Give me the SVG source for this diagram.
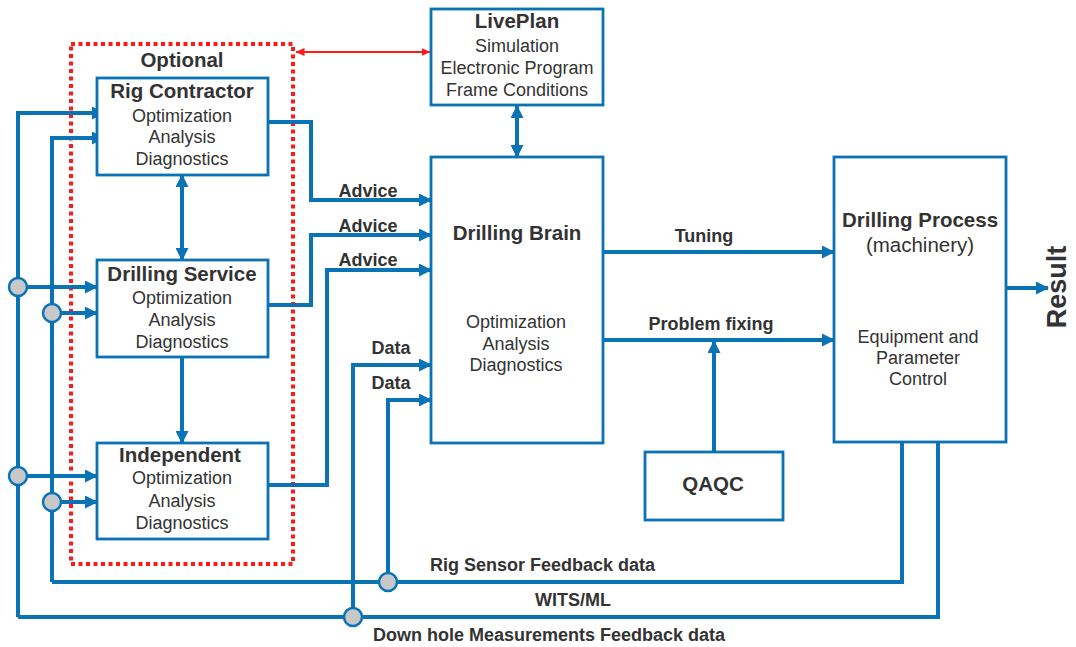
<svg xmlns="http://www.w3.org/2000/svg" width="1076" height="647" viewBox="0 0 1076 647">
<defs>
<marker id="ah" viewBox="0 0 13 13" refX="12" refY="6.5" markerWidth="13" markerHeight="13" markerUnits="userSpaceOnUse" orient="auto-start-reverse">
<path d="M0,0 L13,6.5 L0,13 z" fill="#0a73b5"/>
</marker>
<marker id="rh" viewBox="0 0 9 8" refX="8.5" refY="4" markerWidth="9" markerHeight="8" markerUnits="userSpaceOnUse" orient="auto-start-reverse">
<path d="M0,0 L9,4 L0,8 z" fill="#ff1a1a"/>
</marker>
<style>
.box{fill:#fff;stroke:#0a73b5;stroke-width:2.8}
.ln{fill:none;stroke:#0a73b5;stroke-width:4;stroke-linejoin:miter}
.ar{fill:none;stroke:#0a73b5;stroke-width:4;marker-end:url(#ah)}
.dar{fill:none;stroke:#0a73b5;stroke-width:4;marker-start:url(#ah);marker-end:url(#ah)}
.dot{fill:#c8c8c8;stroke:#0a73b5;stroke-width:2.5}
text{font-family:"Liberation Sans",Arial,sans-serif;fill:#333;text-anchor:middle}
.t{font-size:20.5px;font-weight:bold}
.b{font-size:18px}
.lb{font-size:18px;font-weight:bold}
.st{text-anchor:start}
</style>
</defs>

<g id="optional-group">
<rect x="71" y="44" width="222" height="520" fill="none" stroke="#ff1a1a" stroke-width="4" stroke-dasharray="4 3.5"/>
<text class="t" x="182" y="67">Optional</text>
</g>

<g id="connectors">
<!-- buses -->
<path class="ar" d="M18,617 L18,113 L104,113"/>
<path class="ar" d="M52,582 L52,138 L104,138"/>
<path class="ar" d="M18,287 L97,287"/>
<path class="ar" d="M52,313 L97,313"/>
<path class="ar" d="M18,476 L97,476"/>
<path class="ar" d="M52,502 L97,502"/>
<!-- feedback lines -->
<path class="ln" d="M52,582 L902,582 L902,442"/>
<path class="ln" d="M18,617 L938,617 L938,442"/>
<!-- data arrows -->
<path class="ar" d="M353,617 L353,365 L431,365"/>
<path class="ar" d="M388,582 L388,400 L431,400"/>
<!-- advice arrows -->
<path class="ar" d="M268,122 L311,122 L311,200 L431,200"/>
<path class="ar" d="M268,305 L311,305 L311,235 L431,235"/>
<path class="ar" d="M268,485 L327,485 L327,270 L431,270"/>
<!-- between optional boxes -->
<path class="dar" d="M182,175 L182,260"/>
<path class="ar" d="M182,357 L182,443"/>
<!-- liveplan -->
<path class="dar" d="M517,106 L517,157"/>
<path d="M296,52 L430,52" fill="none" stroke="#ff1a1a" stroke-width="2" marker-start="url(#rh)" marker-end="url(#rh)"/>
<!-- brain to process -->
<path class="ar" d="M603,252 L834,252"/>
<path class="ar" d="M603,340 L834,340"/>
<path class="ar" d="M714,452 L714,341"/>
<path class="ar" d="M1006,288 L1048,288"/>
<!-- junction dots -->
<circle class="dot" cx="18" cy="287" r="9"/>
<circle class="dot" cx="52" cy="313" r="9"/>
<circle class="dot" cx="18" cy="476" r="9"/>
<circle class="dot" cx="52" cy="502" r="9"/>
<circle class="dot" cx="388" cy="582" r="9"/>
<circle class="dot" cx="353" cy="617" r="9"/>
<!-- labels -->
<text class="lb" x="368" y="197">Advice</text>
<text class="lb" x="368" y="232">Advice</text>
<text class="lb" x="368" y="266">Advice</text>
<text class="lb" x="391" y="354">Data</text>
<text class="lb" x="391" y="389">Data</text>
<text class="lb" x="704" y="242">Tuning</text>
<text class="lb" x="711" y="330">Problem fixing</text>
<text class="lb st" x="430" y="571">Rig Sensor Feedback data</text>
<text class="lb" x="573" y="606">WITS/ML</text>
<text class="lb st" x="373" y="641">Down hole Measurements Feedback data</text>
<text x="1066" y="287" transform="rotate(-90 1066 287)" style="font-size:27px;font-weight:bold">Result</text>
</g>

<g id="rig-contractor">
<rect class="box" x="97" y="78" width="171" height="97"/>
<text class="t" x="182" y="98">Rig Contractor</text>
<text class="b" x="182" y="122">Optimization</text>
<text class="b" x="182" y="143">Analysis</text>
<text class="b" x="182" y="165">Diagnostics</text>
</g>

<g id="drilling-service">
<rect class="box" x="97" y="260" width="171" height="97"/>
<text class="t" x="182" y="281">Drilling Service</text>
<text class="b" x="182" y="304">Optimization</text>
<text class="b" x="182" y="326">Analysis</text>
<text class="b" x="182" y="348">Diagnostics</text>
</g>

<g id="independent">
<rect class="box" x="97" y="443" width="171" height="96"/>
<text class="t" x="180" y="462">Independent</text>
<text class="b" x="182" y="484">Optimization</text>
<text class="b" x="182" y="507">Analysis</text>
<text class="b" x="182" y="529">Diagnostics</text>
</g>

<g id="liveplan">
<rect class="box" x="431" y="9" width="172" height="96"/>
<text class="t" x="517" y="28">LivePlan</text>
<text class="b" x="517" y="52">Simulation</text>
<text class="b" x="517" y="74">Electronic Program</text>
<text class="b" x="517" y="96">Frame Conditions</text>
</g>

<g id="drilling-brain">
<rect class="box" x="431" y="157" width="172" height="286"/>
<text class="t" x="517" y="240">Drilling Brain</text>
<text class="b" x="516" y="328">Optimization</text>
<text class="b" x="516" y="350">Analysis</text>
<text class="b" x="516" y="371">Diagnostics</text>
</g>

<g id="drilling-process">
<rect class="box" x="834" y="157" width="172" height="285"/>
<text class="t" x="920" y="227">Drilling Process</text>
<text x="920" y="252" style="font-size:20.5px">(machinery)</text>
<text class="b" x="918" y="343">Equipment and</text>
<text class="b" x="918" y="364">Parameter</text>
<text class="b" x="918" y="385">Control</text>
</g>

<g id="qaqc">
<rect class="box" x="645" y="452" width="138" height="68"/>
<text class="t" x="713" y="491">QAQC</text>
</g>
</svg>
